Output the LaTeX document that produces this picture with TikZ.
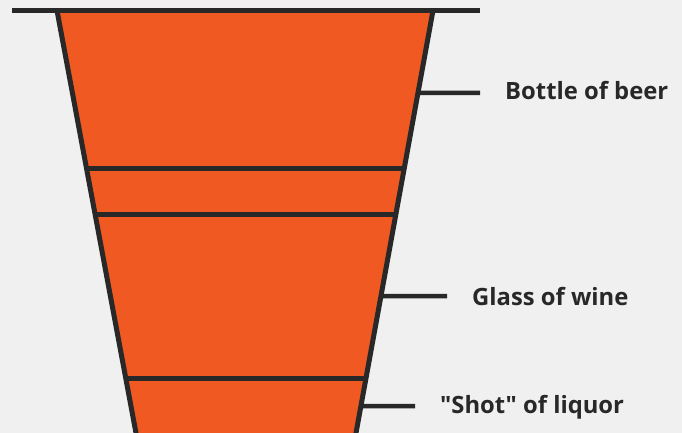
\documentclass[tikz,border=0pt]{standalone}
\usepackage{fontspec}
\setmainfont{Open Sans}[Ligatures=TeXOff]
\usetikzlibrary{calc}
\definecolor{bgc}{HTML}{F0F0F0}
\definecolor{orng}{HTML}{F05A22}
\definecolor{ink}{HTML}{282828}
\begin{document}
\begin{tikzpicture}[x=1pt,y=-1pt,
  edge/.style={draw=ink,line width=5pt},
  lbl/.style={anchor=base west,inner sep=0pt,font=\bfseries\fontsize{23.8}{27}\selectfont,text=ink}]
\useasboundingbox (0,0) rectangle (682,433);
\fill[bgc] (0,0) rectangle (682,433);
\clip (0,0) rectangle (682,433);
% trapezoid corners
\coordinate (tl) at (57,10.5);
\coordinate (tr) at (433,10.5);
\coordinate (bl) at ($(tl)!1.05!(136,433)$);
\coordinate (br) at ($(tr)!1.05!(356,433)$);
\fill[orng] (tl) -- (tr) -- (br) -- (bl) -- cycle;
% dividers
\foreach \n/\yy in {a/168,b/214,c/378}{
  \coordinate (L\n) at ($(57,10.5)!{(\yy-10.5)/422.5}!(136,433)$);
  \coordinate (R\n) at ($(433,10.5)!{(\yy-10.5)/422.5}!(356,433)$);
  \draw[edge] (L\n) -- (R\n);
}
\draw[edge] (tl) -- (bl);
\draw[edge] (tr) -- (br);
\draw[edge] (12,10.5) -- (480,10.5);
% label lines
\foreach \n/\yy/\xe in {p/93/480,q/296/447,r/406/415}{
  \coordinate (S\n) at ($(433,10.5)!{(\yy-10.5)/422.5}!(356,433)$);
  \coordinate (E\n) at (\xe,\yy);
  \draw[edge,line width=4.5pt] (S\n) -- (E\n);
}
\node[lbl] (beer) at (505,99.5) {Bottle of beer};
\node[lbl] (wine) at (472,305) {Glass of wine};
\node[lbl] (shot) at (440,413) {"Shot" of liquor};
\end{tikzpicture}
\end{document}
